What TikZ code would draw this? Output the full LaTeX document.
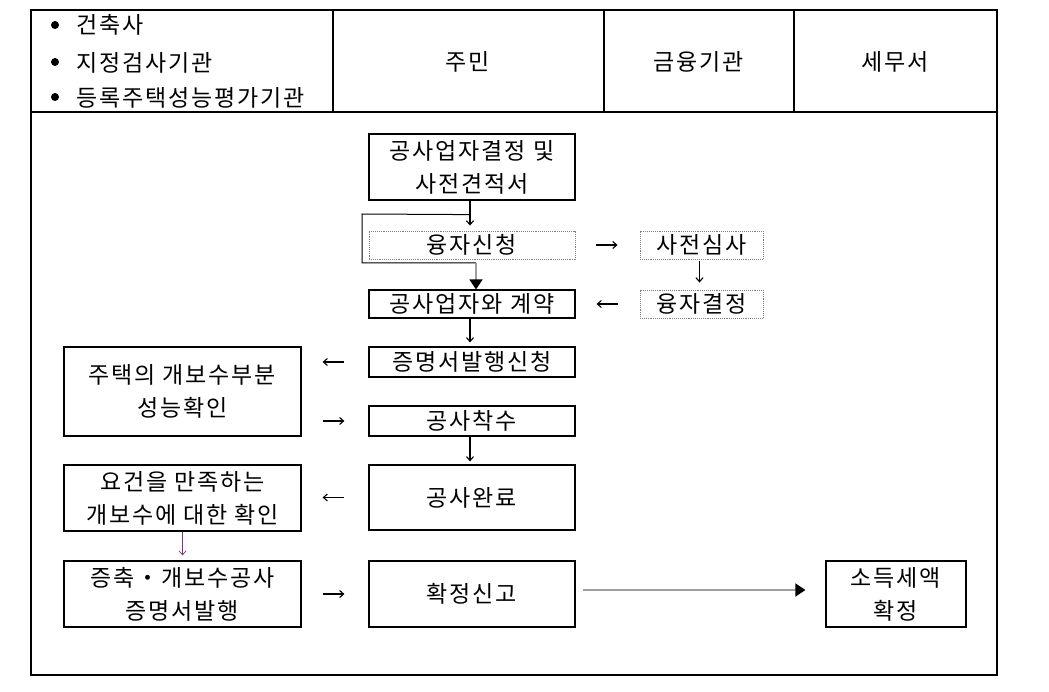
\documentclass[tikz,border=0pt]{standalone}
\usepackage{fontspec}
\setmainfont{Noto Sans CJK KR}[LetterSpace=8]
\usetikzlibrary{arrows.meta,calc}
\begin{document}
\begin{tikzpicture}[x=1pt,y=-1pt,
  txt/.style={font=\fontsize{23}{33}\selectfont, align=center, inner sep=0pt},
  box/.style={txt, draw, line width=1.2pt},
  dbox/.style={txt, draw=gray, densely dotted, line width=0.9pt},
  tarr/.style={line width=1.1pt, -{Straight Barb[length=4pt,width=7pt]}},
  garr/.style={draw=gray!75, line width=1.8pt, -{Triangle[length=10pt,width=13pt,black]}},
  frame/.style={line width=1.2pt}]
\useasboundingbox (0,0) rectangle (1049,692);
% table frame
\draw[frame] (31,10) rectangle (997,675);
\draw[frame] (31,112) -- (997,112);
\draw[frame] (333,10) -- (333,112);
\draw[frame] (604,10) -- (604,112);
\draw[frame] (794,10) -- (794,112);
% header
\node[circle, fill, inner sep=0pt, minimum size=8pt] (d1) at (55,25) {};
\node[circle, fill, inner sep=0pt, minimum size=8pt] (d2) at (55,62) {};
\node[circle, fill, inner sep=0pt, minimum size=8pt] (d3) at (55,97) {};
\node[txt, anchor=west] (t1) at (76,25) {건축사};
\node[txt, anchor=west] (t2) at (76,63) {지정검사기관};
\node[txt, anchor=west] (t3) at (76,98) {등록주택성능평가기관};
\node[txt] (h2) at (468,62) {주민};
\node[txt] (h3) at (699,62) {금융기관};
\node[txt] (h4) at (895,62) {세무서};
% boxes
\node[box, minimum width=206, minimum height=66] (b1) at (472,167) {공사업자결정 및\\사전견적서};
\node[dbox, minimum width=206, minimum height=28] (b2) at (472,245) {융자신청};
\node[box, minimum width=206, minimum height=28] (b3) at (472,304) {공사업자와 계약};
\node[dbox, minimum width=123, minimum height=28] (b4) at (701.5,245) {사전심사};
\node[dbox, minimum width=123, minimum height=28] (b5) at (701.5,304) {융자결정};
\node[box, minimum width=206, minimum height=30] (b6) at (472,362) {증명서발행신청};
\node[box, minimum width=237, minimum height=89] (b7) at (182.5,391.5) {주택의 개보수부분\\성능확인};
\node[box, minimum width=206, minimum height=30] (b8) at (472,421) {공사착수};
\node[box, minimum width=206, minimum height=65] (b9) at (472,497.5) {공사완료};
\node[box, minimum width=237, minimum height=66] (b10) at (182.5,498) {요건을 만족하는\\개보수에 대한 확인};
\node[box, minimum width=237, minimum height=66] (b11) at (182.5,594) {증축・개보수공사\\증명서발행};
\node[box, minimum width=206, minimum height=66] (b12) at (472,594) {확정신고};
\node[box, minimum width=140, minimum height=66] (b13) at (896,594) {소득세액\\확정};
% connectors
\coordinate (c0) at ($(b1.south)+(-2,14)$);
\coordinate (c1) at (362,214);
\coordinate (c2) at (362,263);
\coordinate (c3) at (476,263);
\draw[tarr, shorten >=5pt] ([xshift=-2]b1.south) -- ([xshift=-2]b2.north);
\draw[line width=1pt] (c0) -- (c1) -- (c2) -- (c3);
\draw[garr] (c3) -- (c3 |- b3.north);
\draw[tarr, shorten <=21pt, shorten >=22pt] (b2.east) -- (b4.west);
\draw[tarr, shorten <=2pt, shorten >=7pt] ([xshift=-2]b4.south) -- ([xshift=-2]b5.north);
\draw[tarr, shorten <=22pt, shorten >=21pt] (b5.west) -- (b3.east);
\draw[tarr, shorten >=4pt] ([xshift=-2]b3.south) -- ([xshift=-2]b6.north);
\draw[tarr, shorten <=24pt, shorten >=21pt] (b6.west) -- (b6.west -| b7.east);
\draw[tarr, shorten <=21pt, shorten >=24pt] (b8.west -| b7.east) -- (b8.west);
\draw[tarr, shorten >=3pt] ([xshift=-2]b8.south) -- ([xshift=-2]b9.north);
\draw[tarr, shorten <=24pt, shorten >=21pt] (b9.west) -- (b9.west -| b10.east);
\draw[line width=0.7pt, draw=violet!60!gray, -{Straight Barb[length=4pt,width=7pt]}, shorten >=5pt] (b10.south) -- (b11.north);
\draw[tarr, shorten <=21pt, shorten >=24pt] (b11.east) -- (b12.west);
\draw[garr, shorten <=7pt, shorten >=20pt] ([yshift=4]b12.east) -- ([yshift=4]b13.west);
\end{tikzpicture}
\end{document}
